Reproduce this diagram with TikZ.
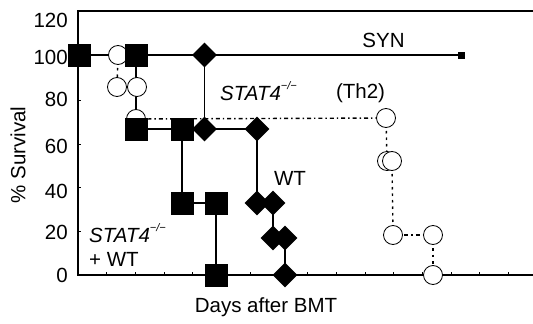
\documentclass[tikz,border=0pt]{standalone}
\usepackage{fontspec}
\setmainfont{Liberation Sans}
\usetikzlibrary{shapes.geometric,backgrounds}
\begin{document}
\begin{tikzpicture}[x=1pt,y=-1pt,
  lbl/.style={font=\fontsize{20.5}{24}\selectfont, inner sep=0pt},
  sqm/.style={rectangle, fill=black, minimum size=23pt, inner sep=0pt},
  dim/.style={diamond, fill=black, minimum width=25pt, minimum height=25pt, inner sep=0pt},
  cim/.style={circle, draw=black, fill=white, line width=0.8pt, minimum size=19pt, inner sep=0pt},
  endm/.style={rectangle, fill=black, minimum size=7pt, inner sep=0pt},
  axisline/.style={line width=1.8pt},
  curve/.style={line width=1.5pt},
  dashdot/.style={line width=1.4pt, dash pattern=on 4pt off 3pt on 1.4pt off 3pt},
  dotv/.style={line width=1.4pt, dash pattern=on 2.5pt off 4pt},
  tickline/.style={line width=0.8pt}]
\useasboundingbox (0,0) rectangle (533,324);
% axes
\coordinate (tl) at (78,11);
\coordinate (tr) at (533,11);
\coordinate (bl) at (78,275);
\coordinate (br) at (533,275);
\draw[axisline] (tr) -- (tl) -- (bl) -- (br);
\foreach \k in {1,...,15} \draw[tickline] ({78+28.7*\k},275) -- ++(0,-3);
\foreach \v in {20,40,60,80,100} \draw[tickline] (78,{275-2.18*\v}) -- ++(3,0);
% y labels
\node[lbl, anchor=east] (y120) at (68,20) {120};
\node[lbl, anchor=east] (y100) at (68,57) {100};
\node[lbl, anchor=east] (y80) at (68,99) {80};
\node[lbl, anchor=east] (y60) at (68,146) {60};
\node[lbl, anchor=east] (y40) at (68,191) {40};
\node[lbl, anchor=east] (y20) at (68,232) {20};
\node[lbl, anchor=east] (y0) at (68,275) {0};
\node[lbl, rotate=90] (ytitle) at (18,155) {\% Survival};
\node[lbl] (xtitle) at (266,307) {Days after BMT};
% Th2 circles
\node[cim] (c1) at (118,55) {};
\node[cim] (c2) at (117,87) {};
\node[cim] (c3) at (137,87) {};
\node[cim] (c4) at (136,119) {};
\node[cim] (c5) at (386,118) {};
\node[cim] (c6) at (387,161) {};
\node[cim] (c7) at (392,161) {};
\node[cim] (c8) at (393,235) {};
\node[cim] (c9) at (433,235) {};
\node[cim] (c10) at (433,275) {};
% squares
\node[sqm] (s1) at (79,55) {};
\node[sqm] (s2) at (136,55) {};
\node[sqm] (s3) at (136,129) {};
\node[sqm] (s4) at (182,129) {};
\node[sqm] (s5) at (182,203) {};
\node[sqm] (s6) at (216,203) {};
\node[sqm] (s7) at (216,275) {};
% diamonds
\node[dim] (d1) at (204.5,55) {};
\node[dim] (d2) at (204.5,129) {};
\node[dim] (d3) at (257,129) {};
\node[dim] (d4) at (257,203) {};
\node[dim] (d5) at (273,203) {};
\node[dim] (d6) at (273,238) {};
\node[dim] (d7) at (285,238) {};
\node[dim] (d8) at (285,275) {};
% SYN end
\node[endm] (synend) at (461,55) {};
% connectors
\begin{scope}[on background layer]
\draw[curve] (s1.center) -- (synend.center);
\draw[curve] (s2.center) -- (s3.center) -- (s4.center) -- (s5.center) -- (s6.center) -- (s7.center);
\draw[curve] (d1.center) -- (d2.center) -- (d3.center) -- (d4.center) -- (d5.center) -- (d6.center) -- (d7.center) -- (d8.center);
\draw[dotv] (c1.center) -- (c2.center);
\draw[curve] (c2.center) -- (c3.center);
\draw[dashdot] (c4.center) -- (c5.center);
\draw[dotv] (c5.center) -- (c6.center);
\draw[dotv] (c7.center) -- (c8.center);
\draw[dashdot] (c8.center) -- (c9.center);
\draw[dotv] (c9.center) -- (c10.center);
\end{scope}
% labels
\node[lbl] (syn) at (383.5,40) {SYN};
\node[lbl, anchor=base west] (stat) at (220,100) {\textit{STAT4}\raisebox{0.5em}{\fontsize{11}{11}\selectfont\itshape −/−}};
\node[lbl] (th2) at (360.5,93) {(Th2)};
\node[lbl] (wt) at (290,178) {WT};
\node[lbl, anchor=base west] (stat2) at (89,242) {\textit{STAT4}\raisebox{0.5em}{\fontsize{11}{11}\selectfont\itshape −/−}};
\node[lbl, anchor=base west] (pwt) at (89,266) {+ WT};
\end{tikzpicture}
\end{document}
